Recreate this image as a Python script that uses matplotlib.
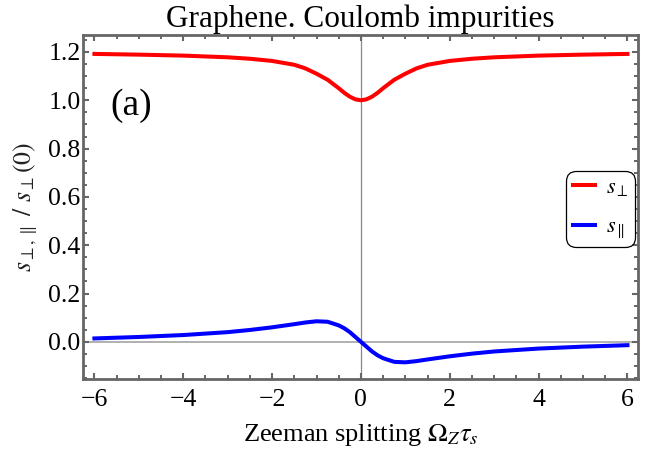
import matplotlib
matplotlib.use("Agg")
import matplotlib.pyplot as plt
from matplotlib.ticker import MultipleLocator, FormatStrFormatter, FuncFormatter

plt.rcParams['font.family'] = ['Liberation Serif', 'DejaVu Serif']
plt.rcParams['mathtext.fontset'] = 'stix'

# Data
x_vals = [-6, -5, -4, -3, -2.5, -2, -1.5, -1.25, -1, -0.75, -0.5, -0.375, -0.25, -0.125,
          0, 0.125, 0.25, 0.375, 0.5, 0.75, 1, 1.25, 1.5, 2, 2.5, 3, 4, 5, 6]
s_perp = [1.192, 1.189, 1.185, 1.178, 1.172, 1.163, 1.147, 1.132, 1.110, 1.085, 1.050, 1.031, 1.015, 1.004,
          1.000, 1.004, 1.015, 1.031, 1.050, 1.085, 1.110, 1.132, 1.147, 1.163, 1.172, 1.178, 1.185, 1.189, 1.192]
s_par = [0.014, 0.020, 0.028, 0.040, 0.049, 0.060, 0.073, 0.080, 0.085, 0.083, 0.068, 0.056, 0.040, 0.020,
         0.000, -0.020, -0.040, -0.056, -0.068, -0.083, -0.085, -0.080, -0.073, -0.060, -0.049, -0.040, -0.028, -0.020, -0.014]

title = "Graphene. Coulomb impurities"
xlabel = r"Zeeman splitting $\Omega_Z\tau_s$"
ylabel = r"$s_{\perp,\parallel}\ /\ s_{\perp}(0)$"
panel = "(a)"

fig = plt.figure(figsize=(6.54, 4.54), dpi=100)
ax = fig.add_axes([0.1274, 0.1652, 0.975 - 0.1274, 0.9222 - 0.1652])

ax.axvline(0, color='#888888', lw=0.9, zorder=1)
ax.axhline(0, color='#aaaaaa', lw=1.3, zorder=1)

ax.plot(x_vals, s_perp, color='#ff0000', lw=2.9, label=r"$s_{\perp}$", zorder=3)
ax.plot(x_vals, s_par, color='#0000ff', lw=2.9, label=r"$s_{\parallel}$", zorder=3)

ax.set_xlim(-6.25, 6.23)
ax.set_ylim(-0.154, 1.269)

ax.xaxis.set_major_locator(MultipleLocator(2))
ax.xaxis.set_minor_locator(MultipleLocator(0.5))
ax.yaxis.set_major_locator(MultipleLocator(0.2))
ax.yaxis.set_minor_locator(MultipleLocator(0.05))
ax.xaxis.set_major_formatter(FuncFormatter(lambda v, p: ("%d" % round(v)).replace('-', '\u2212')))
ax.yaxis.set_major_formatter(FormatStrFormatter('%.1f'))

for s in ax.spines.values():
    s.set_color('#666666')
    s.set_linewidth(2.0)

ax.tick_params(which='both', direction='in', top=True, right=True, color='#666666',
               labelsize=18.5, labelcolor='black')
ax.tick_params(which='major', length=4.5, width=1.5)
ax.tick_params(which='minor', length=3.0, width=1.4)
ax.tick_params(axis='x', which='both', pad=7)
ax.tick_params(axis='y', which='both', pad=2)

ax.set_title(title, fontsize=22.5, pad=5.8)
ax.set_xlabel(xlabel, fontsize=19)
ax.xaxis.set_label_coords(0.5, -0.125)
ax.set_ylabel(ylabel, fontsize=18.5, color='#222222')
ax.yaxis.set_label_coords(-0.079, 0.5)

ax.text(-5.17, 0.976, panel, fontsize=27, ha='center', va='center')

leg = ax.legend(loc='upper left', bbox_to_anchor=(0.8707, 0.606), fontsize=16,
                fancybox=True, framealpha=1, edgecolor='black', handlelength=1.0,
                handletextpad=0.5, labelspacing=0.85, borderpad=0.3, borderaxespad=0)
leg.get_frame().set_linewidth(0.9)
leg.get_frame().set_boxstyle('round,pad=0,rounding_size=0.45')

fig.savefig("out.png", dpi=100)
